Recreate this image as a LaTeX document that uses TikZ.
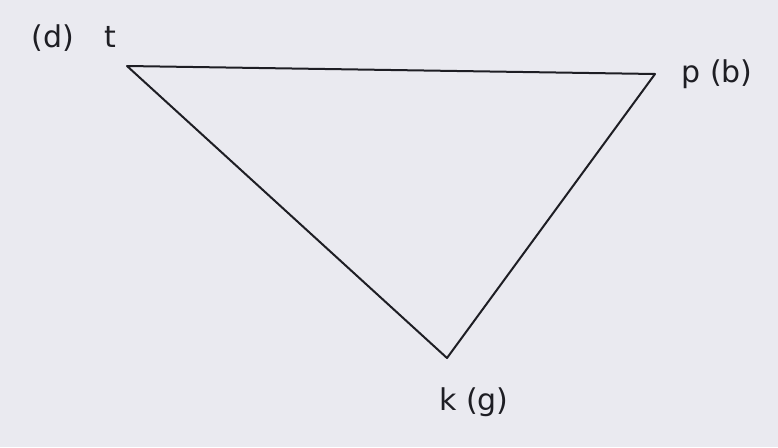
\documentclass[tikz,border=0pt]{standalone}
\usepackage{fontspec}
\setmainfont{DejaVu Sans}
\definecolor{paper}{RGB}{234,234,240}
\definecolor{ink}{RGB}{30,30,36}
\tikzset{
  lab/.style={text=ink,font=\fontsize{30}{34}\selectfont,inner sep=0pt}
}
\begin{document}
\begin{tikzpicture}[x=1pt,y=-1pt]

% paper
\fill[paper]
(0,0)
rectangle
(778,447);
\useasboundingbox (0,0) rectangle (778,447);

% corners
\coordinate (t) at (127,66);
\coordinate (p) at (655,74);
\coordinate (k) at (447,358);

% triangle
\draw[ink,line width=2pt,line join=round]
(t)
--
(p)
--
(k)
--
cycle;

% labels
\node[lab] (tl) at (74,38) {(d)\quad t};
\node[lab] (pl) at (717,74) {p (b)};
\node[lab] (kl) at (474,402) {k (g)};

\end{tikzpicture}
\end{document}
